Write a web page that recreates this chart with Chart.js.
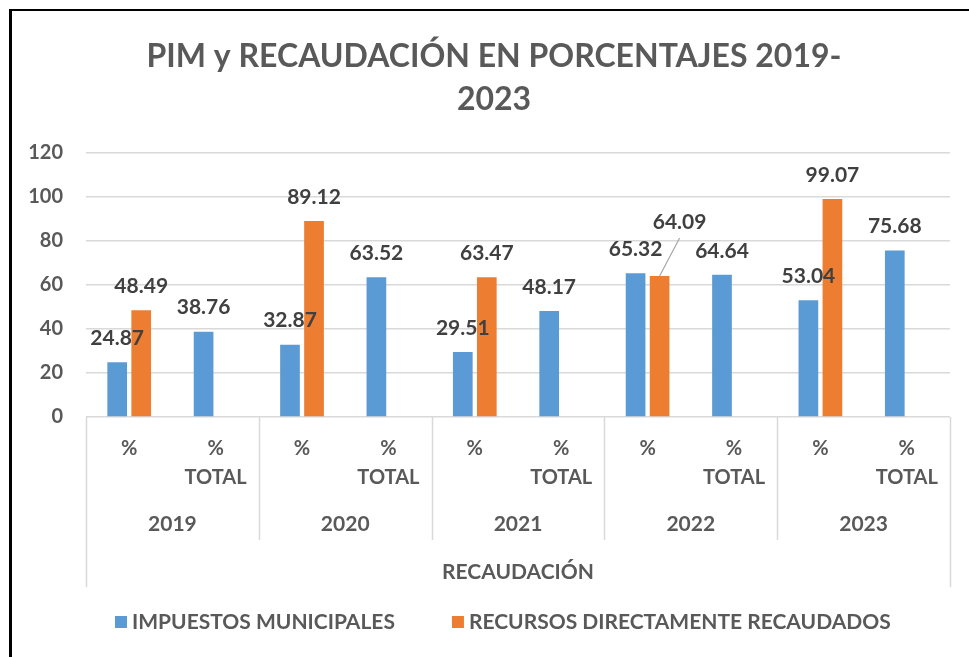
<!DOCTYPE html>
<html>
<head>
<meta charset="utf-8">
<script src="https://cdn.jsdelivr.net/npm/chart.js@4.4.1/dist/chart.umd.min.js"></script>
<style>
  html, body { margin: 0; padding: 0; background: #fff; overflow: hidden; }
  #wrap { position: relative; width: 969px; height: 657px; }
  #frame { position: absolute; left: 9px; top: 9px; right: -5px; bottom: -5px;
           border-left: 3px solid #000; border-top: 2px solid #000; pointer-events: none; }
</style>
</head>
<body>
<div id="wrap">
  <canvas id="pimChart" width="969" height="657"></canvas>
  <div id="frame"></div>
</div>
<script>
// data
var categories = [["%"], ["%", "TOTAL"], ["%"], ["%", "TOTAL"], ["%"], ["%", "TOTAL"],
                  ["%"], ["%", "TOTAL"], ["%"], ["%", "TOTAL"]];
var years = ["2019", "2020", "2021", "2022", "2023"];
var outerLabel = "RECAUDACIÓN";
var seriesNames = ["IMPUESTOS MUNICIPALES", "RECURSOS DIRECTAMENTE RECAUDADOS"];
var impuestos = [24.87, 38.76, 32.87, 63.52, 29.51, 48.17, 65.32, 64.64, 53.04, 75.68];
var recursos = [48.49, null, 89.12, null, 63.47, null, 64.09, null, 99.07, null];
var yMin = 0, yMax = 120, yStep = 20;

var FONT = "Lato, 'Open Sans', sans-serif";
var GRID = "#D9D9D9";

// value labels above bars (one label moved out with a leader line, like the original)
var valueLabels = {
    id: 'valueLabels',
    afterDatasetsDraw: function (chart, args, opts) {
        var ctx = chart.ctx;
        ctx.save();
        ctx.font = "bold 21px " + FONT;
        ctx.fillStyle = "#404040";
        ctx.textAlign = "center";
        ctx.textBaseline = "middle";
        chart.data.datasets.forEach(function (ds, di) {
            var meta = chart.getDatasetMeta(di);
            meta.data.forEach(function (bar, i) {
                var v = ds.data[i];
                if (v === null || v === undefined) return;
                var shift = opts.shift[di + "-" + i] || [0, 0];
                var x = bar.x + shift[0];
                var y = bar.y - 24 + shift[1];
                if (shift[0] || shift[1]) {
                    ctx.beginPath();
                    ctx.strokeStyle = "#A6A6A6";
                    ctx.lineWidth = 1.2;
                    ctx.moveTo(bar.x, bar.y);
                    ctx.lineTo(x, y + 16);
                    ctx.stroke();
                }
                ctx.fillText(v.toFixed(2), x, y);
            });
        });
        ctx.restore();
    }
};

// second and third level of the category axis + separators
var multiAxis = {
    id: 'multiAxis',
    afterDraw: function (chart) {
        var ctx = chart.ctx;
        var xs = chart.scales.x;
        var area = chart.chartArea;
        var catW = (xs.right - xs.left) / categories.length;
        var per = categories.length / years.length;
        ctx.save();
        ctx.strokeStyle = GRID;
        ctx.lineWidth = 1.5;
        for (var k = 0; k <= years.length; k++) {
            var bx = Math.round(xs.left + k * per * catW) + 0.5;
            var end = (k === 0 || k === years.length) ? area.bottom + 170 : area.bottom + 123;
            ctx.beginPath();
            ctx.moveTo(bx, area.bottom);
            ctx.lineTo(bx, end);
            ctx.stroke();
        }
        ctx.font = "bold 21px " + FONT;
        ctx.fillStyle = "#595959";
        ctx.textAlign = "center";
        ctx.textBaseline = "middle";
        years.forEach(function (yr, k) {
            ctx.fillText(yr, xs.left + (k + 0.5) * per * catW, area.bottom + 107);
        });
        ctx.fillText(outerLabel, (xs.left + xs.right) / 2, area.bottom + 155);
        ctx.restore();
    }
};

// legend drawn below the axis block
var bottomLegend = {
    id: 'bottomLegend',
    afterDraw: function (chart) {
        var ctx = chart.ctx;
        ctx.save();
        ctx.font = "bold 21px " + FONT;
        ctx.textBaseline = "middle";
        ctx.textAlign = "left";
        var y = 622;
        var x = 115;
        chart.data.datasets.forEach(function (ds) {
            ctx.fillStyle = ds.backgroundColor;
            ctx.fillRect(x, y - 6, 12, 12);
            ctx.fillStyle = "#595959";
            ctx.fillText(ds.label, x + 17, y);
            x += 17 + ctx.measureText(ds.label).width + 57;
        });
        ctx.restore();
    }
};

var ctx = document.getElementById("pimChart");
var myChart = new Chart(ctx, {
    type: 'bar',
    data: {
        labels: categories,
        datasets: [{
            label: seriesNames[0],
            data: impuestos,
            backgroundColor: "#5B9BD5",
            categoryPercentage: 0.556,
            barPercentage: 0.82
        }, {
            label: seriesNames[1],
            data: recursos,
            backgroundColor: "#ED7D31",
            categoryPercentage: 0.556,
            barPercentage: 0.82
        }]
    },
    options: {
        responsive: false,
        animation: false,
        layout: { padding: { left: 24, right: 5, top: 0, bottom: 0 } },
        plugins: {
            legend: { display: false },
            tooltip: { enabled: false },
            title: {
                display: true,
                text: ["PIM y RECAUDACIÓN EN PORCENTAJES 2019-", "2023"],
                color: "#595959",
                font: { family: FONT, size: 32, weight: 'bold', lineHeight: '43px' },
                padding: { top: 35.5, bottom: 31.5 }
            },
            valueLabels: { shift: { "1-6": [20, -30] } }
        },
        scales: {
            x: {
                grid: { display: false, drawTicks: false },
                border: { display: false },
                ticks: {
                    color: "#595959",
                    font: { family: FONT, size: 20, weight: 'bold', lineHeight: '29px' },
                    padding: 17.5,
                    autoSkip: false,
                    maxRotation: 0
                },
                afterFit: function (scale) { scale.height = 240; }
            },
            y: {
                min: yMin,
                max: yMax,
                grid: { color: GRID, lineWidth: 1.5, drawTicks: false },
                border: { display: false },
                ticks: {
                    stepSize: yStep,
                    color: "#595959",
                    font: { family: FONT, size: 20, weight: 'bold' },
                    padding: 23
                },
                afterFit: function (scale) { scale.width = 62; }
            },
            // empty right-hand spacer so the plot ends where the original's does
            yRight: {
                position: 'right',
                grid: { display: false },
                border: { display: false },
                ticks: { display: false },
                afterFit: function (scale) { scale.width = 14; }
            }
        }
    },
    plugins: [valueLabels, multiAxis, bottomLegend]
});
</script>
</body>
</html>
